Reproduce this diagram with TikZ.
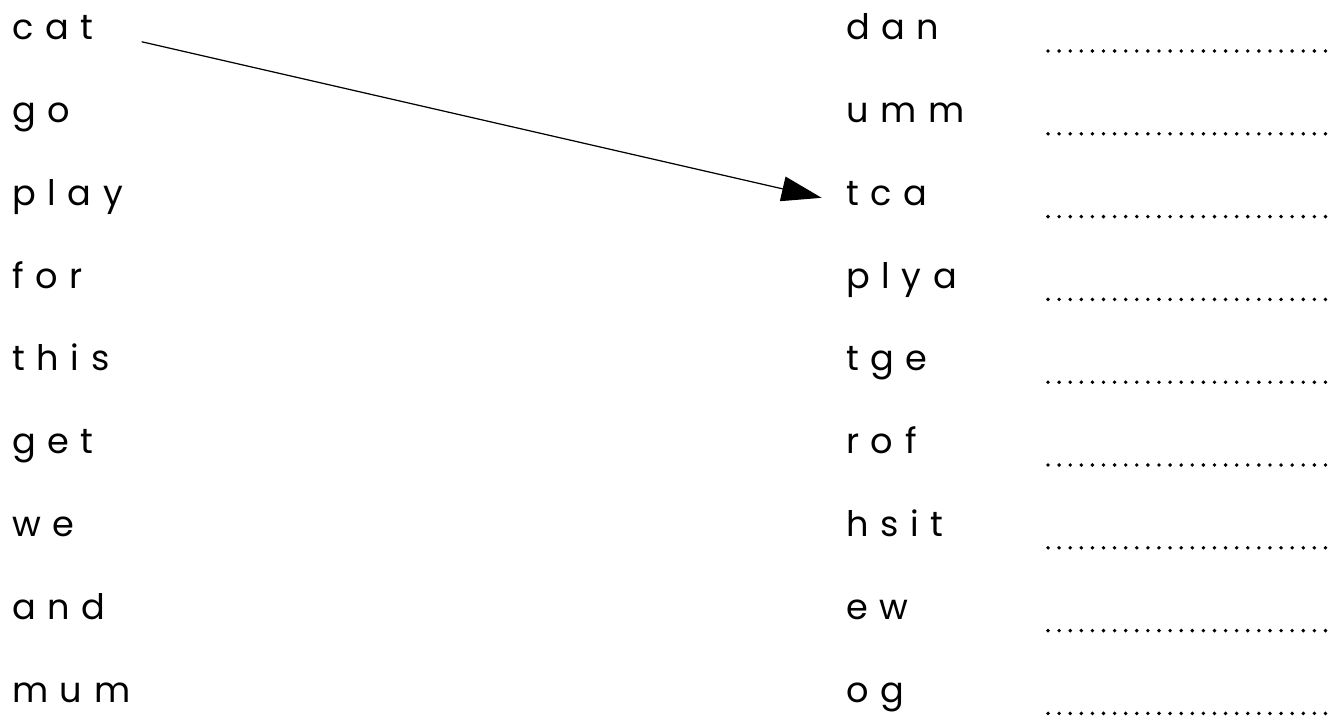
\documentclass[tikz,border=0pt]{standalone}
\usepackage{fontspec}
\setmainfont{Poppins}
\usetikzlibrary{arrows.meta}

\begin{document}
\begin{tikzpicture}[x=0.02cm, y=-0.02cm, node distance=1.656cm,
    word/.style={text width=4cm, align=left, text height=0.55cm, text depth=0.2cm, inner sep=0pt, font=\fontsize{20}{24}\selectfont},
    blank/.style={line width=2.2pt, line cap=round, dash pattern=on 0pt off 0.222cm}]
    \useasboundingbox (0,0) rectangle (1328,718);
    % Words
    \node [word] (cat) at (112,31) {c a t};
    \node [word, below of=cat] (go) {g o};
    \node [word, below of=go] (play) {p l a y};
    \node [word, below of=play] (for) {f o r};
    \node [word, below of=for] (this) {t h i s};
    \node [word, below of=this] (get) {g e t};
    \node [word, below of=get] (we) {w e};
    \node [word, below of=we] (and) {a n d};
    \node [word, below of=and] (mum) {m u m};

    % Jumbled words
    \node [word] (dan) at (946,31) {d a n};
    \node [word, below of=dan] (umm) {u m m};
    \node [word, below of=umm] (tca) {t c a};
    \node [word, below of=tca] (plya) {p l y a};
    \node [word, below of=plya] (tge) {t g e};
    \node [word, below of=tge] (rof) {r o f};
    \node [word, below of=rof] (hsit) {h s i t};
    \node [word, below of=hsit] (ew) {e w};
    \node [word, below of=ew] (og) {o g};

    % Answer lines
    \draw [blank] (1048,51) -- (1326,51);
    \draw [blank] (1048,133.8) -- (1326,133.8);
    \draw [blank] (1048,216.6) -- (1326,216.6);
    \draw [blank] (1048,299.4) -- (1326,299.4);
    \draw [blank] (1048,382.2) -- (1326,382.2);
    \draw [blank] (1048,465) -- (1326,465);
    \draw [blank] (1048,547.8) -- (1326,547.8);
    \draw [blank] (1048,630.6) -- (1326,630.6);
    \draw [blank] (1048,713.4) -- (1326,713.4);

    % Arrow
    \draw [line width=0.7pt, -{Triangle[length=0.8cm, width=0.5cm]}] ([shift={(130,2)}]cat.base west) -- ([shift={(-24,-7.5)}]tca.base west);
\end{tikzpicture}
\end{document}
